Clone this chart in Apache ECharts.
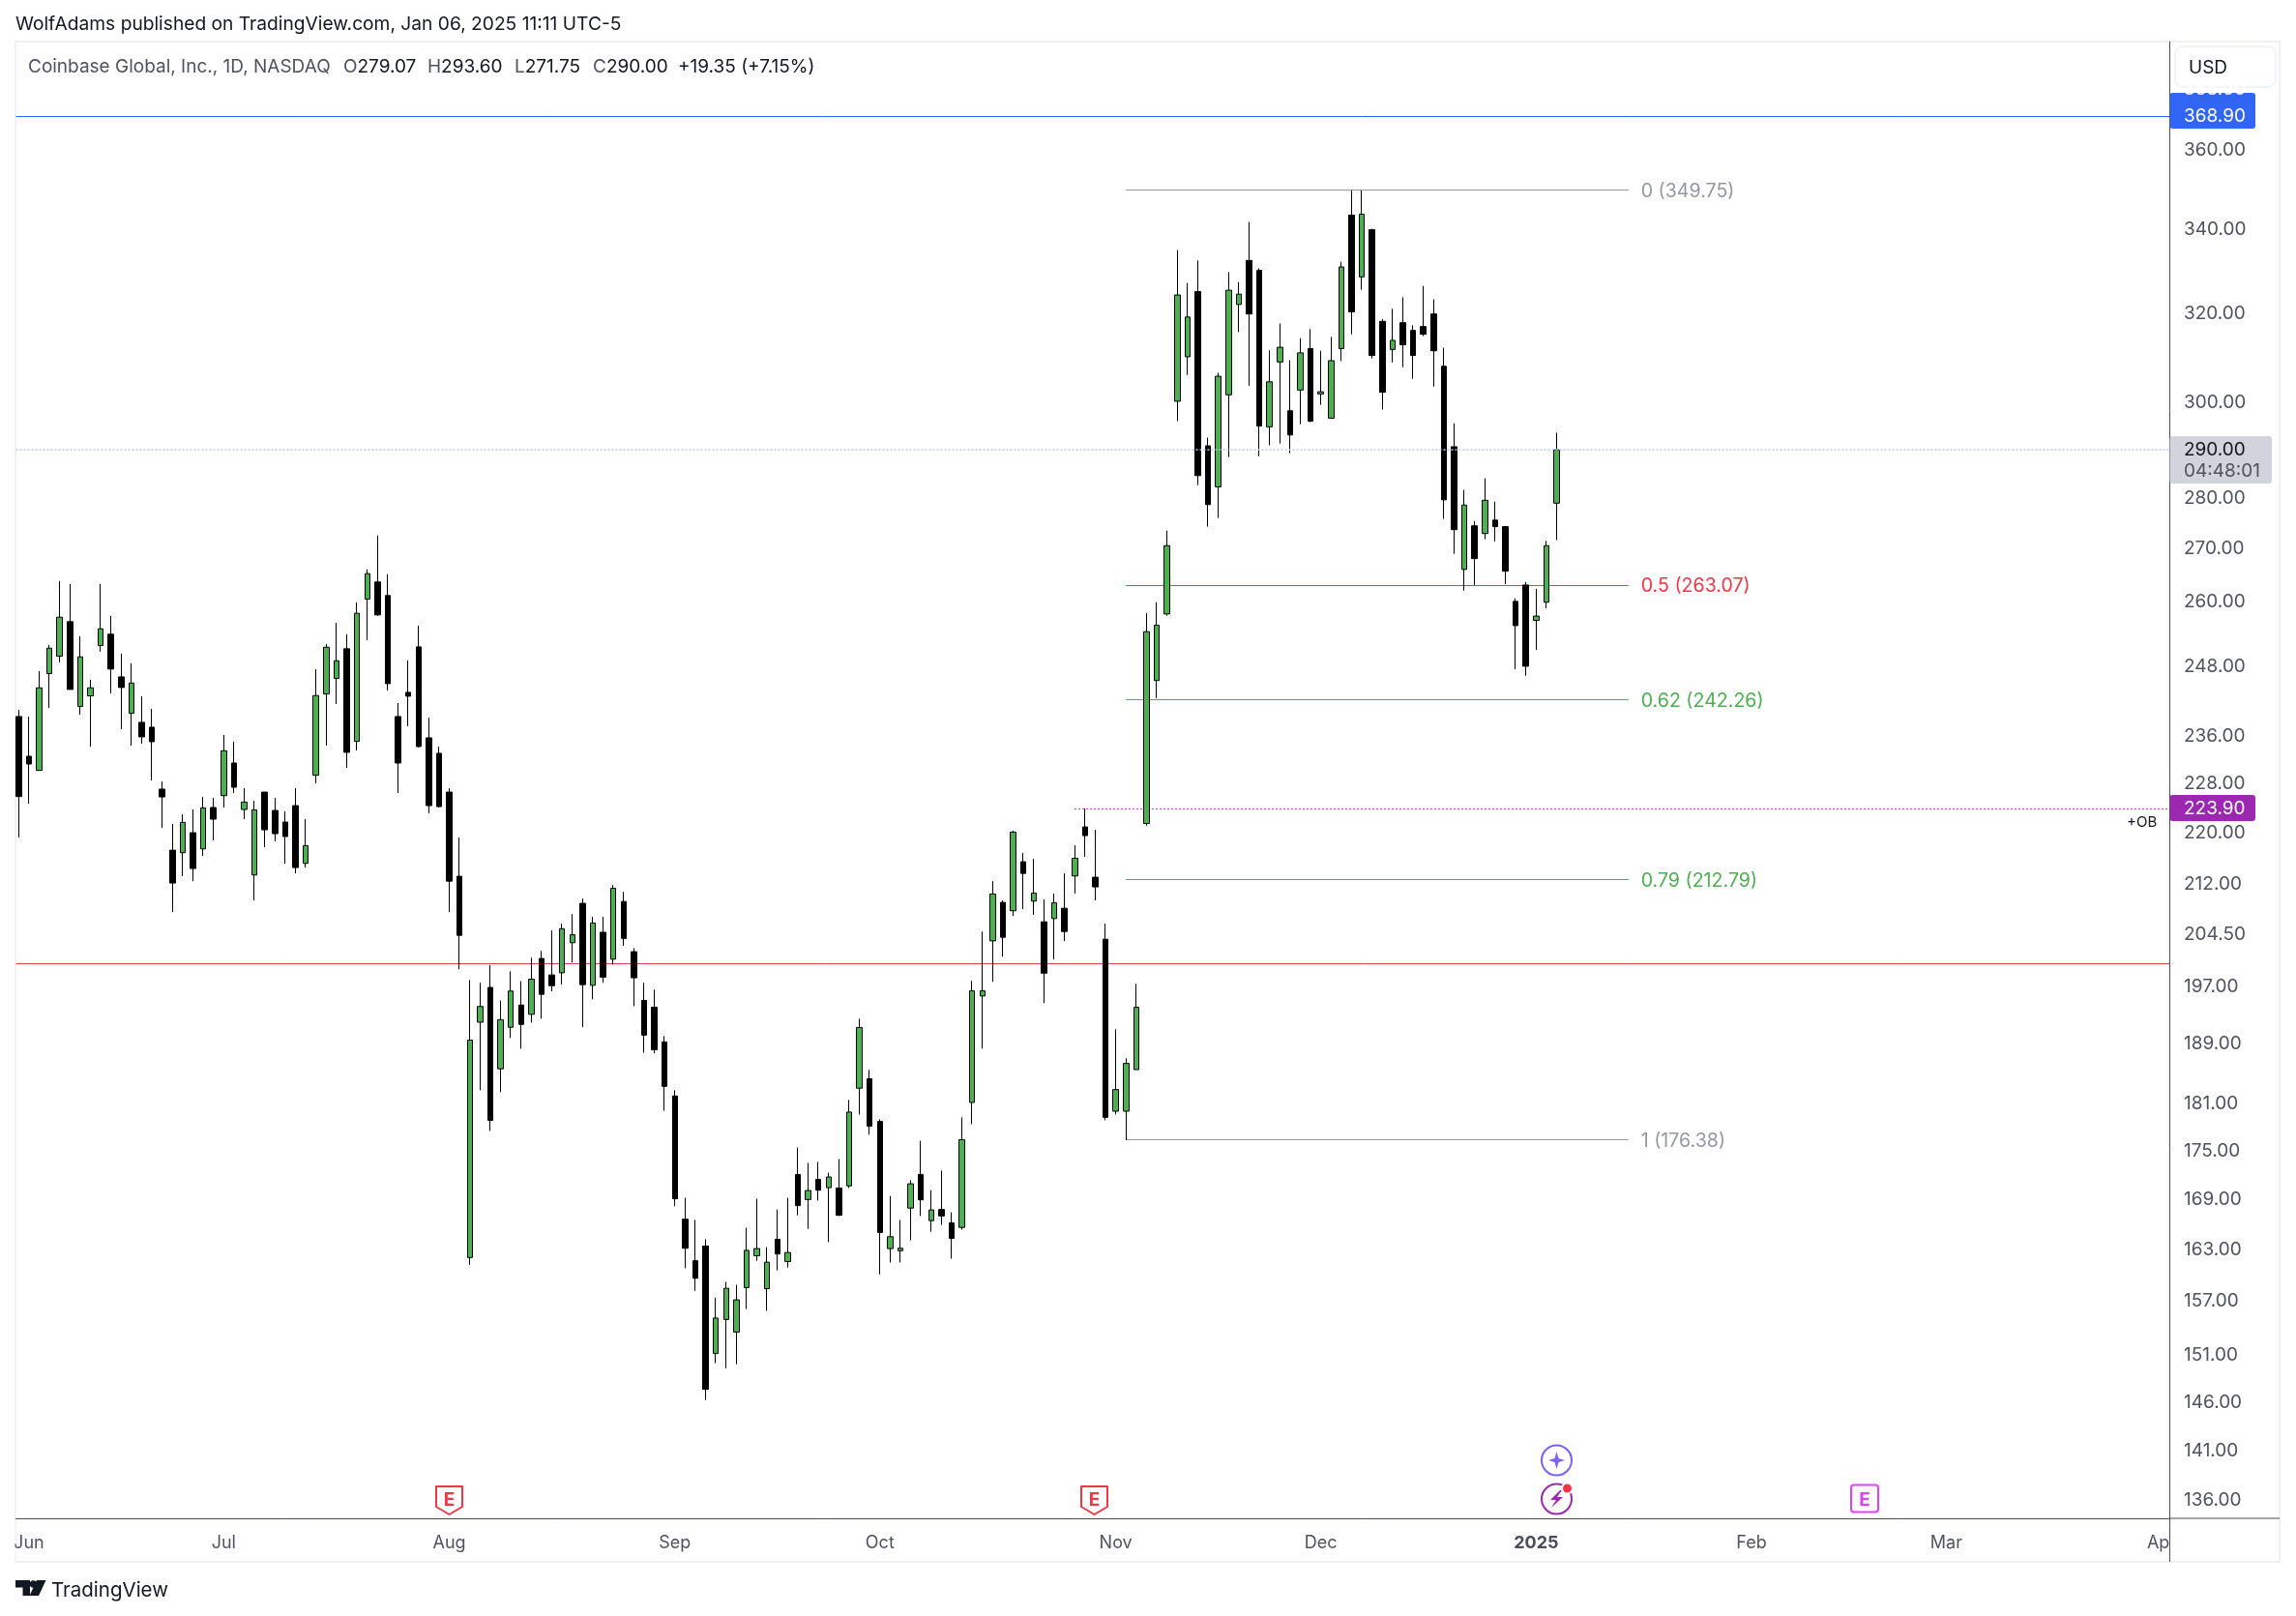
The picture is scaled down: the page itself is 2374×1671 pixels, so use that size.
<!DOCTYPE html>
<html><head><meta charset="utf-8"><style>html,body{margin:0;background:#fff}#c{width:2374px;height:1671px}</style>
<script src="https://cdn.jsdelivr.net/npm/echarts@6/dist/echarts.min.js"></script></head><body><div id="c"></div>
<script>
const opens=[239.30,232.55,230.18,246.81,249.93,256.23,241.03,242.88,251.86,253.92,246.24,239.85,238.30,237.47,227.10,217.33,216.93,220.08,217.53,224.11,226.04,231.42,223.79,213.48,226.62,223.64,221.77,224.42,215.27,229.38,243.22,245.95,251.27,235.05,260.43,263.66,261.10,239.30,243.51,251.62,235.65,233.04,226.62,213.28,162.04,191.99,196.86,185.65,191.30,194.38,193.08,
201.01,198.64,198.95,203.31,209.16,197.16,204.84,200.91,209.44,202.00,195.03,194.08,189.28,182.05,166.58,161.67,163.39,151.21,154.97,153.57,158.57,162.25,158.45,164.19,161.58,172.04,168.96,171.42,170.41,170.36,170.63,183.08,184.32,178.74,163.09,162.84,167.92,172.04,166.41,167.75,166.14,165.60,181.20,195.65,203.58,209.30,208.04,215.52,209.49,206.40,206.88,
208.42,213.33,221.00,213.13,203.82,180.06,180.06,185.54,221.54,245.59,257.66,300.33,310.12,325.05,290.85,282.37,301.73,322.03,332.42,330.05,294.86,308.96,298.28,302.77,311.96,301.92,296.70,311.96,343.47,328.51,339.85,318.14,311.76,317.84,316.07,316.95,319.83,308.00,290.66,266.06,274.56,273.03,275.68,274.39,260.00,263.09,256.46,259.84,279.07];
const closes=[225.89,231.25,244.30,251.39,257.06,244.02,249.82,244.30,254.92,247.62,244.36,245.15,235.82,234.99,225.83,212.24,221.72,214.47,224.05,222.24,233.47,227.41,224.99,223.74,220.54,219.93,219.47,214.62,218.04,242.94,251.56,249.12,233.20,257.78,265.26,257.48,245.04,231.42,242.83,234.18,224.42,224.26,212.53,204.39,189.53,194.18,178.88,192.34,196.35,191.69,198.03,
195.89,197.11,205.37,204.47,197.26,206.22,198.33,211.44,203.94,198.23,190.21,188.21,183.32,169.05,163.13,159.64,147.36,155.13,158.49,157.18,162.88,163.09,161.50,162.46,162.63,168.22,170.06,170.10,171.73,167.05,179.95,191.25,178.14,165.00,164.49,163.13,170.89,168.92,167.70,166.97,164.30,176.41,196.38,196.38,210.57,204.11,220.18,213.72,210.71,198.90,209.25,
204.96,216.07,219.62,211.65,179.27,182.89,186.37,194.06,254.39,255.58,270.66,324.24,319.13,284.66,278.78,305.80,325.35,324.44,319.83,295.04,304.57,312.25,293.12,310.99,296.05,302.39,309.25,330.87,320.33,343.69,310.41,302.30,313.81,312.83,310.41,315.18,311.47,279.74,273.79,278.70,268.14,279.65,274.39,265.73,255.50,248.13,257.26,270.66,290.00];
const lows=[219.31,224.73,230.18,240.80,248.83,244.02,239.63,234.18,250.75,243.34,237.14,234.34,234.67,228.53,220.85,207.84,213.28,212.53,216.42,218.85,224.11,226.46,222.24,209.59,217.79,218.70,215.22,213.72,214.62,228.05,234.34,241.48,230.61,233.52,252.85,257.30,243.85,226.46,237.63,234.01,223.17,224.11,207.84,199.46,161.21,182.80,177.50,182.56,189.82,188.36,191.94,
192.48,196.30,197.26,200.44,191.30,195.19,197.52,200.13,202.84,194.23,187.82,187.73,180.13,168.14,160.79,158.20,146.22,150.16,149.62,150.05,156.13,161.67,155.93,160.54,160.88,167.05,165.42,168.83,163.85,166.97,170.36,179.62,177.04,160.09,161.46,161.46,164.06,166.97,165.08,165.89,161.91,165.33,178.39,188.37,197.66,201.28,207.26,208.28,207.41,194.65,200.86,
203.54,210.62,216.27,209.59,178.89,179.64,176.37,185.54,221.19,242.48,257.34,296.05,306.09,282.72,274.39,276.10,288.50,315.67,303.71,288.68,290.94,291.30,289.31,295.41,295.87,299.58,296.70,309.15,315.18,325.46,309.73,298.55,308.86,307.81,305.23,314.79,303.52,275.93,269.06,262.03,263.09,271.92,271.50,263.26,247.59,246.44,251.08,258.70,271.75];
const highs=[240.47,239.30,247.27,251.97,263.85,263.30,253.56,245.72,263.30,257.30,250.40,248.66,242.83,240.64,228.37,221.46,223.02,223.79,225.83,225.68,236.15,234.99,227.26,225.20,226.62,225.68,223.48,227.26,222.24,247.62,252.15,256.05,253.92,259.83,266.07,272.64,265.14,241.64,249.18,255.51,239.13,234.18,227.26,219.31,197.93,197.52,200.03,195.03,199.16,197.77,201.12,
202.11,205.10,206.11,207.55,209.87,207.12,207.12,211.94,210.90,202.52,197.52,196.55,190.07,182.80,169.18,166.49,164.19,157.43,159.22,158.90,165.55,169.05,163.26,167.75,169.18,175.41,173.47,173.60,172.26,173.96,181.53,192.48,185.51,179.02,169.40,166.49,171.33,176.27,170.10,172.53,167.42,179.27,197.80,204.96,212.53,209.59,220.39,216.88,215.97,209.74,210.62,
213.72,218.09,223.95,220.54,206.11,191.02,187.06,197.38,257.82,259.84,273.62,334.92,327.08,332.42,292.57,306.56,329.64,327.28,341.76,330.56,311.57,317.64,309.35,314.30,316.36,311.47,314.59,332.11,349.62,349.62,340.07,318.63,321.03,323.74,317.25,326.37,323.23,312.15,295.59,281.75,275.50,284.13,279.39,274.39,260.56,263.67,262.36,271.58,293.60];

const priceTicks=[360,340,320,300,280,270,260,248,236,228,220,212,204.5,197,189,181,175,169,163,157,151,146,141,136];
const monthTicks=[1,20,42,64,84,107,127,148,169,188,209];
const monthLabels=['Jun','Jul','Aug','Sep','Oct','Nov','Dec','2025','Feb','Mar','Apr'];
const fibLevels=[0,0.5,0.62,0.79,1];
const fibPrices=[349.75,263.07,242.26,212.79,176.38];
const fibColors=['#9598a1','#f23645','#4caf50','#4caf50','#9598a1'];
const fibFrom=108, fibTo=157;
const blueLevel=368.90, redLevel=200.25, lastPrice=290.00, obLevel=223.90, obFrom=103;

const FONT='Inter, "Noto Sans", sans-serif';
const candleData=opens.map((o,i)=>[i,o,closes[i],lows[i],highs[i]]);
const chart=echarts.init(document.getElementById('c'),null,{renderer:'canvas'});
const L=16.5,R=2243.5,T=43,B=1570,XR=2357;
const AX='#4a4b58';
const txt=(x,y,text,style)=>({type:'text',z:50,x,y,silent:true,style:Object.assign({text,fontFamily:FONT,fontSize:19,fill:'#50535e',verticalAlign:'middle'},style||{})});
const rect=(x,y,w,h,fill,r,stroke)=>({type:'rect',z:40,silent:true,shape:{x,y,width:w,height:h,r:r||0},style:{fill,stroke:stroke||null,lineWidth:stroke?2:0}});
const line=(x1,y1,x2,y2,stroke,lw)=>({type:'line',z:45,silent:true,shape:{x1,y1,x2,y2},style:{stroke,lineWidth:lw||1}});
const poly=(points,fill,z)=>({type:'polygon',z:z||41,silent:true,shape:{points},style:{fill}});
const ohlc=(x,k,v)=>({type:'text',z:50,x,y:69,silent:true,style:{fontFamily:FONT,fontSize:19,verticalAlign:'middle',
   text:(k?'{k|'+k+'}':'')+'{v|'+v+'}',
   rich:{k:{fill:'#50535e',fontSize:19,fontFamily:FONT},v:{fill:'#131722',fontSize:19,fontFamily:FONT}}}});
const graphic=[
 {type:'rect',z:0,silent:true,shape:{x:16,y:43,width:2341,height:1572},style:{fill:'none',stroke:'#f0f0f5',lineWidth:2}},
 rect(0,1572,15.5,40,'#fff'), rect(2244,1573,14,38,'#fff'),
 line(R,B,R,1615,AX), line(R,B,XR,B,AX),
 txt(16,25.5,'WolfAdams published on TradingView.com, Jan 06, 2025 11:11 UTC-5',{fill:'#131722',fontSize:19.2}),
 txt(29,69,'Coinbase Global, Inc., 1D, NASDAQ',{fontSize:19}),
 ohlc(355,'O','279.07'),ohlc(442,'H','293.60'),ohlc(532,'L','271.75'),ohlc(613,'C','290.00'),ohlc(701,'','+19.35 (+7.15%)'),
 rect(2249,48,104,42,'#fff',8,'#f0f3fa'),
 txt(2263,70,'USD',{fill:'#131722',fontSize:19}),
 rect(R,96,88.5,37,'#3166f5',3),
 txt(2258,92,'368.90',{fill:'#fff'}),
 txt(2258,120,'368.90',{fill:'#fff'}),
 rect(R,451,105.5,49,'#d1d4dc',3),
 txt(2258,465.5,'290.00',{fill:'#131722'}),
 txt(2258,487.5,'04:48:01',{fill:'#50535e'}),
 rect(R,822,88.5,27,'#9c27b0',3),
 txt(2258,836,'223.90',{fill:'#fff'}),
 txt(2199,850,'+OB',{fill:'#131722',fontSize:15}),
 {type:'polygon',z:40,silent:true,shape:{points:[[451,1537],[478,1537],[478,1558],[464.5,1566],[451,1558]]},style:{fill:'#fff',stroke:'#f23645',lineWidth:2,lineJoin:'round'}},
 txt(464.5,1551,'E',{fill:'#f23645',fontSize:19,fontWeight:700,align:'center'}),
 {type:'polygon',z:40,silent:true,shape:{points:[[1118,1537],[1145,1537],[1145,1558],[1131.5,1566],[1118,1558]]},style:{fill:'#fff',stroke:'#f23645',lineWidth:2,lineJoin:'round'}},
 txt(1131.5,1551,'E',{fill:'#f23645',fontSize:19,fontWeight:700,align:'center'}),
 rect(1914,1535.5,28,28,'#fff',3,'#e040fb'),
 txt(1928,1551,'E',{fill:'#e040fb',fontSize:19,fontWeight:700,align:'center'}),
 {type:'circle',z:40,silent:true,shape:{cx:1609.5,cy:1510,r:15.5},style:{fill:'#fff',stroke:'#7b61ff',lineWidth:2}},
 poly([[1609.5,1501],[1611.5,1508],[1618,1510],[1611.5,1512],[1609.5,1519],[1607.5,1512],[1601,1510],[1607.5,1508]],'#7b61ff'),
 {type:'circle',z:40,silent:true,shape:{cx:1609.5,cy:1550,r:15.5},style:{fill:'#fff',stroke:'#9c27b0',lineWidth:2}},
 poly([[1613,1541],[1603,1551],[1609,1551],[1604,1559],[1616,1548],[1610,1548],[1615,1541]],'#9c27b0'),
 {type:'circle',z:42,silent:true,shape:{cx:1620.5,cy:1539,r:5.5},style:{fill:'#f23645',stroke:'#fff',lineWidth:2}},
 poly([[16,1634],[31,1634],[31,1650],[23.5,1650],[23.5,1641.5],[16,1641.5]],'#131722'),
 poly([[38,1634],[47.5,1634],[40,1650],[30.5,1650]],'#131722'),
 {type:'circle',z:41,silent:true,shape:{cx:34.5,cy:1638,r:3.7},style:{fill:'#131722'}},
 txt(53,1644.5,'TradingView',{fill:'#131722',fontSize:20.5})
];
const fullLine=(v,color,type)=>({yAxis:v,lineStyle:{color,type,width:1}});
const fibLines=fibPrices.map((p,i)=>[
 {coord:[fibFrom,p],lineStyle:{color:fibColors[i],width:1,type:'solid'},
  label:{show:true,position:'end',distance:13,offset:[0,1.5],color:fibColors[i],fontFamily:FONT,fontSize:19.6,formatter:fibLevels[i]+' ('+p.toFixed(2)+')'}},
 {coord:[fibTo,p]}]);
chart.setOption({
 animation:false,backgroundColor:'#fff',graphic,
 grid:{left:L,right:2374-R,top:T,bottom:1671-B,containLabel:false},
 tooltip:{show:false},
 xAxis:{type:'value',min:-0.264,max:209.8,
  axisLine:{show:true,onZero:false,lineStyle:{color:AX,width:1}},axisTick:{show:false},splitLine:{show:false},
  axisLabel:{customValues:monthTicks,margin:17,hideOverlap:false,showMinLabel:true,showMaxLabel:true,color:'#50535e',fontFamily:FONT,fontSize:18,
   formatter:v=>{const s=monthLabels[monthTicks.indexOf(v)];return s==='2025'?'{y|'+s+'}':s;},
   rich:{y:{fontWeight:700,fontSize:18,color:'#4a4d5a',fontFamily:FONT}}}},
 yAxis:{type:'log',logBase:10,position:'right',min:134.28,max:389.2,
  axisLine:{show:true,onZero:false,lineStyle:{color:AX,width:1}},axisTick:{show:false},splitLine:{show:false},minorTick:{show:false},
  axisLabel:{customValues:priceTicks,margin:14.5,hideOverlap:false,color:'#50535e',fontFamily:FONT,fontSize:19,formatter:v=>v.toFixed(2)}},
 series:[
  {type:'line',data:[],z:1,silent:true,
   markLine:{z:1,silent:true,symbol:'none',animation:false,label:{show:false},
    data:[fullLine(blueLevel,'#2962ff','solid'),fullLine(redLevel,'#d9414f','solid'),
     [{coord:[obFrom,obLevel],lineStyle:{color:'#9c27b0',type:[1.5,2.5],width:1}},{coord:[209.8,obLevel]}]].concat(fibLines)}},
  {type:'candlestick',z:2,data:candleData,layout:'horizontal',encode:{x:0,y:[1,2,3,4]},barWidth:6,clip:true,silent:true,
   itemStyle:{color:'#4caf50',color0:'#000',borderColor:'#000',borderColor0:'#000',borderWidth:1}},
  {type:'line',data:[],z:3,silent:true,
   markLine:{z:3,silent:true,symbol:'none',animation:false,label:{show:false},
    data:[{yAxis:lastPrice,lineStyle:{color:'#b7c6ea',type:[2,2],width:1.5}}]}}
 ]
});
</script></body></html>
